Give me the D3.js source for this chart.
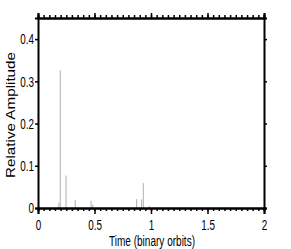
<!DOCTYPE html>
<html>
<head>
<meta charset="utf-8">
<script src="https://cdn.jsdelivr.net/npm/d3@7"></script>
<style>
  body { margin: 0; background: #fff; }
  svg { display: block; }
</style>
</head>
<body>
<div class="chart"></div>
<script>
// spike times (binary orbits) and relative amplitudes
const times = [0.185, 0.197, 0.248, 0.33, 0.47, 0.485, 0.873, 0.917, 0.932, 0.985]
const amps = [0.012, 0.326, 0.077, 0.019, 0.017, 0.008, 0.021, 0.02, 0.059, 0.005]
const xTicks = [0, 0.5, 1, 1.5, 2]
const yTicks = [0, 0.1, 0.2, 0.3, 0.4]

const width = 291
const height = 249
const margin = {top: 18, right: 27, bottom: 41, left: 38}

const x = d3.scaleLinear()
  .domain([0, 2])
  .range([margin.left, width - margin.right])

const y = d3.scaleLinear()
  .domain([0, 0.45])
  .range([height - margin.bottom, margin.top])

const font = "'Liberation Sans', Arial, sans-serif"

const svg = d3.select(".chart").append("svg")
  .attr("width", width)
  .attr("height", height)

// spikes
svg.selectAll("line.spike")
  .data(times.map((t, i) => ({t: t, a: amps[i]})))
  .enter()
  .append("line")
  .attr("class", "spike")
  .attr("x1", d => x(d.t))
  .attr("x2", d => x(d.t))
  .attr("y1", y(0))
  .attr("y2", d => y(d.a))
  .attr("stroke", "#b0b0b0")
  .attr("stroke-width", 1)

const minorX = d3.range(0, 2.0001, 0.05)

// bottom axis
const bottomAxis = svg.append("g")
  .attr("transform", "translate(0," + y(0) + ")")
  .call(d3.axisBottom(x).tickValues(minorX).tickSize(3).tickFormat(""))
bottomAxis.append("g")
  .call(d3.axisBottom(x).tickValues(xTicks).tickSize(6).tickPadding(5).tickFormat(d3.format("")))

// top axis
const topAxis = svg.append("g")
  .attr("transform", "translate(0," + y(0.45) + ")")
  .call(d3.axisTop(x).tickValues(minorX).tickSize(3).tickFormat(""))
topAxis.append("g")
  .call(d3.axisTop(x).tickValues(xTicks).tickSize(5).tickFormat(""))

// left axis
const leftAxis = svg.append("g")
  .attr("transform", "translate(" + x(0) + ",0)")
  .call(d3.axisLeft(y).tickValues(yTicks).tickSize(3).tickPadding(1).tickFormat(d => d === 0 ? "0" : d3.format(".1f")(d)))

// right axis
svg.append("g")
  .attr("transform", "translate(" + x(2) + ",0)")
  .call(d3.axisRight(y).tickValues(yTicks).tickSize(3).tickFormat(""))

svg.selectAll(".domain")
  .attr("stroke", "#000")
  .attr("stroke-width", 2)
svg.selectAll(".tick line")
  .attr("stroke", "#000")
  .attr("stroke-width", 1.5)
svg.selectAll(".tick text")
  .attr("font-family", font)
  .attr("font-size", "15px")
  .attr("fill", "#000")

// condensed look of the tick labels
bottomAxis.selectAll(".tick text")
  .attr("transform", "scale(0.66,1)")
leftAxis.selectAll(".tick text")
  .attr("x", 0)
  .attr("transform", "translate(-4,0) scale(0.66,1)")

// axis titles
svg.append("text")
  .attr("x", 152)
  .attr("y", 246)
  .attr("text-anchor", "middle")
  .attr("font-family", font)
  .attr("font-size", "14px")
  .attr("textLength", 86)
  .attr("lengthAdjust", "spacingAndGlyphs")
  .text("Time (binary orbits)")

svg.append("text")
  .attr("transform", "translate(15,115) rotate(-90)")
  .attr("text-anchor", "middle")
  .attr("font-family", font)
  .attr("font-size", "13px")
  .attr("textLength", 126)
  .attr("lengthAdjust", "spacingAndGlyphs")
  .text("Relative Amplitude")
</script>
</body>
</html>
